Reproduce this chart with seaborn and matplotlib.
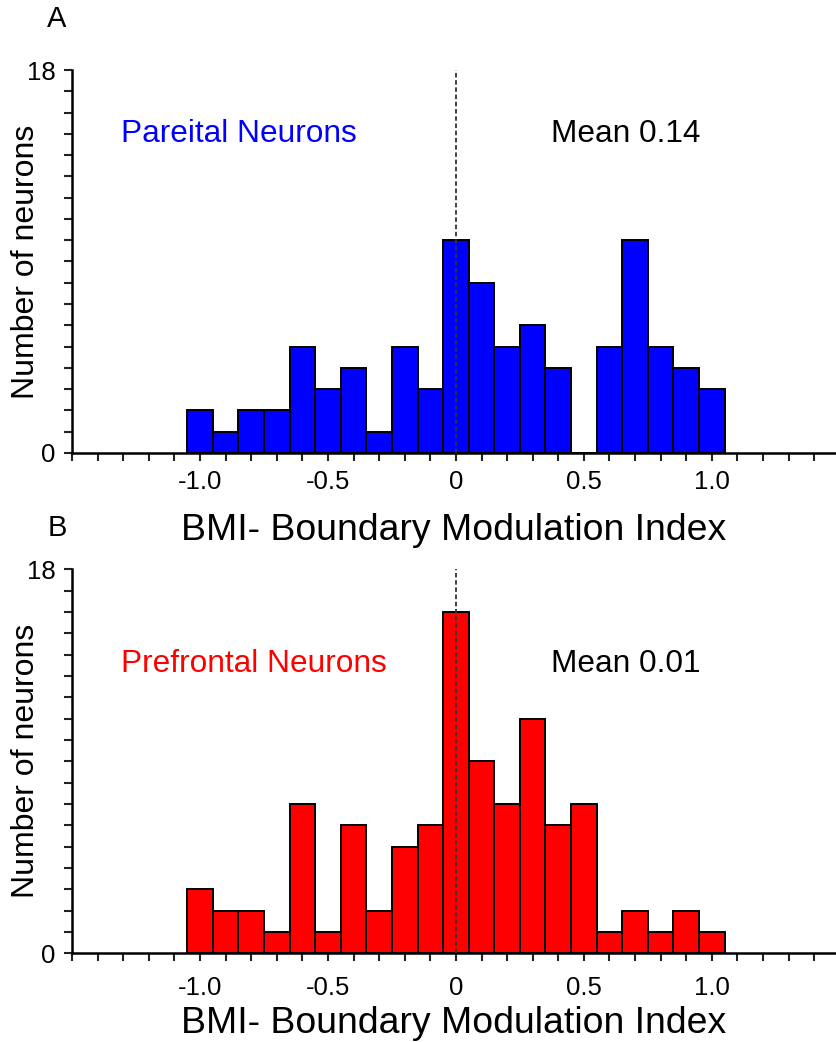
import numpy as np
import pandas as pd
import matplotlib
matplotlib.use("Agg")
import matplotlib.pyplot as plt
from matplotlib.ticker import FixedLocator, FixedFormatter
import seaborn as sns

# ---- data ----
bin_centers = [-1.0, -0.9, -0.8, -0.7, -0.6, -0.5, -0.4, -0.3, -0.2, -0.1,
               0.0, 0.1, 0.2, 0.3, 0.4, 0.5, 0.6, 0.7, 0.8, 0.9, 1.0]
parietal_counts = [2, 1, 2, 2, 5, 3, 4, 1, 5, 3,
                   10, 8, 5, 6, 4, 0, 5, 10, 5, 4, 3]
prefrontal_counts = [3, 2, 2, 1, 7, 1, 6, 2, 5, 6,
                     16, 9, 7, 11, 6, 7, 1, 2, 1, 2, 1]
bin_edges = [-1.05, -0.95, -0.85, -0.75, -0.65, -0.55, -0.45, -0.35, -0.25, -0.15,
             -0.05, 0.05, 0.15, 0.25, 0.35, 0.45, 0.55, 0.65, 0.75, 0.85, 0.95, 1.05]
xtick_values = [-1.0, -0.5, 0.0, 0.5, 1.0]
xtick_labels = ["-1.0", "-0.5", "0", "0.5", "1.0"]
x_minor = [-1.5, -1.4, -1.3, -1.2, -1.1, -0.9, -0.8, -0.7, -0.6, -0.4, -0.3, -0.2, -0.1,
           0.1, 0.2, 0.3, 0.4, 0.6, 0.7, 0.8, 0.9, 1.1, 1.2, 1.3, 1.4]
ytick_values = [0, 18]
ytick_labels = ["0", "18"]
y_minor = list(range(1, 18))
panel_names = ["Pareital Neurons", "Prefrontal Neurons"]
mean_texts = ["Mean 0.14", "Mean 0.01"]
panel_letters = ["A", "B"]
xlabel_text = "BMI- Boundary Modulation Index"
ylabel_text = "Number of neurons"

sns.set_style("ticks")
plt.rcParams["font.family"] = ["Liberation Sans", "DejaVu Sans"]
plt.rcParams["axes.unicode_minus"] = False
plt.rcParams["text.color"] = "black"
plt.rcParams["axes.labelcolor"] = "black"
plt.rcParams["xtick.color"] = "black"
plt.rcParams["ytick.color"] = "black"
plt.rcParams["axes.edgecolor"] = "black"

fig = plt.figure(figsize=(8.36, 10.42), dpi=100)
ax1 = fig.add_axes([0.0861, 0.5653, 1 - 0.0861, 0.9328 - 0.5653])
ax2 = fig.add_axes([0.0861, 0.0851, 1 - 0.0861, 0.4536 - 0.0851])

specs = [
    (ax1, parietal_counts, "#0000FF", panel_names[0], mean_texts[0], 15.0, 6, -0.158),
    (ax2, prefrontal_counts, "#FF0000", panel_names[1], mean_texts[1], 13.55, 10.5, -0.137),
]

for ax, counts, color, name, mean_txt, ty, xpad, xl_y in specs:
    df = pd.DataFrame({"x": bin_centers, "w": counts})
    sns.histplot(data=df, x="x", weights="w", bins=bin_edges, color=color,
                 edgecolor="black", linewidth=1.4, alpha=1.0, ax=ax)
    ax.set_xlim(-1.5, 1.485)
    ax.set_ylim(0, 18)
    for s in ["top", "right"]:
        ax.spines[s].set_visible(False)
    ax.spines["left"].set_linewidth(1.8)
    ax.spines["bottom"].set_linewidth(1.8)
    ax.spines["left"].set_bounds(0, 18)
    ax.spines["left"].set_zorder(5)
    ax.spines["bottom"].set_zorder(5)

    ax.xaxis.set_major_locator(FixedLocator(xtick_values))
    ax.xaxis.set_major_formatter(FixedFormatter(xtick_labels))
    ax.xaxis.set_minor_locator(FixedLocator(x_minor))
    ax.yaxis.set_major_locator(FixedLocator(ytick_values))
    ax.yaxis.set_major_formatter(FixedFormatter(ytick_labels))
    ax.yaxis.set_minor_locator(FixedLocator(y_minor))
    ax.tick_params(which="both", direction="out", length=6, width=1.5, color="#222222")
    ax.tick_params(axis="x", which="major", labelsize=18.5, pad=xpad)
    ax.tick_params(axis="y", which="major", labelsize=18.5, pad=6)

    ax.set_xlabel(xlabel_text, fontsize=26.9)
    ax.set_ylabel(ylabel_text, fontsize=23)
    ax.yaxis.set_label_coords(-0.040, 0.5)
    ax.xaxis.set_label_coords(0.5, xl_y)

    ax.vlines(0, 0, 18, colors="#333333", linestyles=(0, (2.5, 1.5)),
              linewidth=1.3, zorder=6)

    ax.text(-1.31, ty, name, color=color, fontsize=22.8, ha="left", va="center")
    ax.text(0.37, ty, mean_txt, color="black", fontsize=22.8, ha="left", va="center")

fig.text(57 / 836, 1 - 19 / 1042, panel_letters[0], fontsize=21, ha="center", va="center")
fig.text(57 / 836, 1 - 528 / 1042, panel_letters[1], fontsize=21, ha="center", va="center")

fig.savefig("out.png", dpi=100)
